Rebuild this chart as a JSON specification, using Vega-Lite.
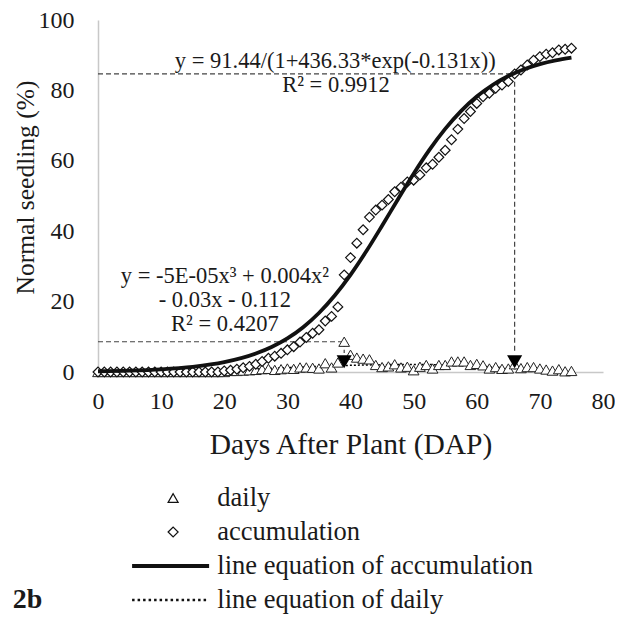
{
  "$schema": "https://vega.github.io/schema/vega-lite/v6.json",
  "background": "white",
  "padding": {"left": 12, "top": 8, "right": 0, "bottom": 0},
  "spacing": 22,
  "config": {"view": {"stroke": null}, "font": "'Liberation Serif', 'Times New Roman', 'DejaVu Serif', serif"},
  "datasets": {
    "obs": [
      {"day":0,"daily":0,"accum":0},{"day":1,"daily":0,"accum":0},{"day":2,"daily":0,"accum":0},{"day":3,"daily":0,"accum":0},
      {"day":4,"daily":0,"accum":0},{"day":5,"daily":0,"accum":0},{"day":6,"daily":0,"accum":0},{"day":7,"daily":0,"accum":0},
      {"day":8,"daily":0,"accum":0},{"day":9,"daily":0,"accum":0},{"day":10,"daily":0,"accum":0},{"day":11,"daily":0,"accum":0},
      {"day":12,"daily":0,"accum":0},{"day":13,"daily":0,"accum":0},{"day":14,"daily":0,"accum":0},{"day":15,"daily":0,"accum":0},
      {"day":16,"daily":0,"accum":0},{"day":17,"daily":0,"accum":0},{"day":18,"daily":0,"accum":0},{"day":19,"daily":0,"accum":0},
      {"day":20,"daily":0,"accum":0.3},{"day":21,"daily":0.3,"accum":0.5},{"day":22,"daily":0.3,"accum":0.8},{"day":23,"daily":0.4,"accum":1.2},
      {"day":24,"daily":0.5,"accum":1.6},{"day":25,"daily":0.6,"accum":2.2},{"day":26,"daily":0.8,"accum":3.0},{"day":27,"daily":0.9,"accum":3.9},
      {"day":28,"daily":0.6,"accum":4.5},{"day":29,"daily":0.8,"accum":5.3},{"day":30,"daily":1.0,"accum":6.3},{"day":31,"daily":0.9,"accum":7.2},
      {"day":32,"daily":1.3,"accum":8.5},{"day":33,"daily":1.3,"accum":9.8},{"day":34,"daily":1.2,"accum":11.0},{"day":35,"daily":1.0,"accum":12.0},
      {"day":36,"daily":2.5,"accum":14.5},{"day":37,"daily":1.3,"accum":15.8},{"day":38,"daily":2.7,"accum":18.5},{"day":39,"daily":8.6,"accum":27.6},
      {"day":40,"daily":4.9,"accum":32.5},{"day":41,"daily":4.1,"accum":36.6},{"day":42,"daily":3.8,"accum":40.4},{"day":43,"daily":3.6,"accum":44.0},
      {"day":44,"daily":2.0,"accum":46.0},{"day":45,"daily":1.4,"accum":47.4},{"day":46,"daily":1.6,"accum":49.0},{"day":47,"daily":2.2,"accum":51.2},
      {"day":48,"daily":1.3,"accum":52.5},{"day":49,"daily":1.5,"accum":54.0},{"day":50,"daily":0.5,"accum":54.5},{"day":51,"daily":1.5,"accum":56.0},
      {"day":52,"daily":2.0,"accum":58.0},{"day":53,"daily":1.0,"accum":59.0},{"day":54,"daily":2.0,"accum":61.0},{"day":55,"daily":2.0,"accum":63.0},
      {"day":56,"daily":3.0,"accum":66.0},{"day":57,"daily":3.0,"accum":69.0},{"day":58,"daily":3.0,"accum":72.0},{"day":59,"daily":2.0,"accum":74.0},
      {"day":60,"daily":2.3,"accum":76.3},{"day":61,"daily":1.9,"accum":78.2},{"day":62,"daily":1.0,"accum":79.2},{"day":63,"daily":1.4,"accum":80.6},
      {"day":64,"daily":0.9,"accum":81.5},{"day":65,"daily":1.0,"accum":82.5},{"day":66,"daily":2.2,"accum":84.7},{"day":67,"daily":1.1,"accum":85.8},
      {"day":68,"daily":1.4,"accum":87.2},{"day":69,"daily":1.4,"accum":88.6},{"day":70,"daily":1.0,"accum":89.6},{"day":71,"daily":0.7,"accum":90.3},
      {"day":72,"daily":0.4,"accum":90.7},{"day":73,"daily":0.8,"accum":91.5},{"day":74,"daily":0.2,"accum":91.7},{"day":75,"daily":0.3,"accum":92.0}
    ],
    "fit": [
      {"x":0,"logistic":0.21,"poly":-0.112},{"x":5,"logistic":0.40,"poly":-0.168},{"x":10,"logistic":0.77,"poly":-0.062},
      {"x":15,"logistic":1.47,"poly":0.169},{"x":20,"logistic":2.79,"poly":0.488},{"x":25,"logistic":5.23,"poly":0.857},
      {"x":27.5,"logistic":7.09},{"x":30,"logistic":9.55,"poly":1.238},{"x":32.5,"logistic":12.74},{"x":35,"logistic":16.77,"poly":1.594},
      {"x":37.5,"logistic":21.73},{"x":40,"logistic":27.61,"poly":1.888},{"x":42.5,"logistic":34.29},{"x":45,"logistic":41.55,"poly":2.082},
      {"x":47.5,"logistic":49.01},{"x":50,"logistic":56.31,"poly":2.138},{"x":52.5,"logistic":63.08},{"x":55,"logistic":69.06,"poly":2.019},
      {"x":57.5,"logistic":74.12},{"x":60,"logistic":78.27,"poly":1.688},{"x":62.5,"logistic":81.54},{"x":65,"logistic":84.09,"poly":1.107},
      {"x":67.5,"logistic":86.02},{"x":70,"logistic":87.47,"poly":0.238},{"x":72.5,"logistic":88.54},{"x":75,"logistic":89.33,"poly":-0.962}
    ],
    "refs": [
      {"x1":0,"x2":66,"y1":84.7,"y2":84.7},
      {"x1":66,"x2":66,"y1":84.7,"y2":5.4},
      {"x1":0,"x2":39,"y1":8.6,"y2":8.6},
      {"x1":39,"x2":39,"y1":8.6,"y2":5.4}
    ],
    "arrows": [{"x":66,"y":2.9},{"x":39,"y":2.9}],
    "notes": [
      {"x":37.6,"y":88.4,"label":"y = 91.44/(1+436.33*exp(-0.131x))"},
      {"x":37.7,"y":81.4,"label":"R² = 0.9912"},
      {"x":20.1,"y":27.4,"label":"y = -5E-05x³ + 0.004x²"},
      {"x":20.1,"y":20.5,"label":"- 0.03x - 0.112"},
      {"x":20.1,"y":13.6,"label":"R² = 0.4207"}
    ],
    "legend": [
      {"item":"daily"},{"item":"accumulation"},{"item":"line equation of accumulation"},{"item":"line equation of daily"}
    ]
  },
  "vconcat": [
    {
      "width": 505,
      "height": 352,
      "layer": [
        {
          "data": {"name": "refs"},
          "mark": {"type": "rule", "color": "#444", "strokeWidth": 1.2, "strokeDash": [5, 3]},
          "encoding": {
            "x": {"field": "x1", "type": "quantitative", "scale": {"domain": [0, 80], "nice": false},
              "axis": {"values": [0,10,20,30,40,50,60,70,80], "title": "Days After Plant (DAP)", "grid": false, "ticks": false,
                "domainColor": "#c8c8c8", "domainWidth": 1.5, "labelFontSize": 24, "labelColor": "#1a1a1a",
                "labelPadding": 17, "labelFlush": false, "labelOverlap": false,
                "titleFontSize": 29.5, "titleFontWeight": "normal", "titleColor": "#1a1a1a", "titlePadding": 17}},
            "x2": {"field": "x2"},
            "y": {"field": "y1", "type": "quantitative", "scale": {"domain": [0, 100], "nice": false},
              "axis": {"values": [0,20,40,60,80,100], "title": "Normal seedling (%)", "grid": false, "ticks": false,
                "domainColor": "#c8c8c8", "domainWidth": 1.5, "labelFontSize": 24, "labelColor": "#1a1a1a",
                "labelPadding": 24, "labelFlush": false, "labelOverlap": false,
                "titleFontSize": 25.5, "titleFontWeight": "normal", "titleColor": "#1a1a1a", "titlePadding": 0, "titleY": 167}},
            "y2": {"field": "y2"}
          }
        },
        {
          "data": {"name": "fit"},
          "transform": [{"filter": "isValid(datum.poly)"}],
          "mark": {"type": "line", "color": "black", "strokeWidth": 1.5, "strokeDash": [2, 2], "interpolate": "monotone", "clip": true},
          "encoding": {
            "x": {"field": "x", "type": "quantitative"},
            "y": {"field": "poly", "type": "quantitative"}
          }
        },
        {
          "data": {"name": "obs"},
          "mark": {"type": "point", "shape": "triangle-up", "filled": true, "fill": "white", "stroke": "#222", "strokeWidth": 1, "size": 115, "opacity": 1},
          "encoding": {
            "x": {"field": "day", "type": "quantitative"},
            "y": {"field": "daily", "type": "quantitative"}
          }
        },
        {
          "data": {"name": "arrows"},
          "mark": {"type": "point", "shape": "triangle-down", "filled": true, "color": "black", "size": 230, "opacity": 1},
          "encoding": {
            "x": {"field": "x", "type": "quantitative"},
            "y": {"field": "y", "type": "quantitative"}
          }
        },
        {
          "data": {"name": "obs"},
          "mark": {"type": "point", "shape": "diamond", "filled": true, "fill": "white", "stroke": "#111", "strokeWidth": 1.2, "size": 95, "opacity": 1},
          "encoding": {
            "x": {"field": "day", "type": "quantitative"},
            "y": {"field": "accum", "type": "quantitative"}
          }
        },
        {
          "data": {"name": "fit"},
          "mark": {"type": "line", "color": "#111", "strokeWidth": 3.8, "interpolate": "monotone"},
          "encoding": {
            "x": {"field": "x", "type": "quantitative"},
            "y": {"field": "logistic", "type": "quantitative"}
          }
        },
        {
          "data": {"name": "notes"},
          "mark": {"type": "text", "fontSize": 22.5, "color": "#1a1a1a", "align": "center", "baseline": "middle"},
          "encoding": {
            "x": {"field": "x", "type": "quantitative"},
            "y": {"field": "y", "type": "quantitative"},
            "text": {"field": "label"}
          }
        }
      ]
    },
    {
      "width": 505,
      "height": 136,
      "data": {"name": "legend"},
      "encoding": {
        "y": {"field": "item", "type": "nominal", "axis": null,
          "scale": {"domain": ["daily", "accumulation", "line equation of accumulation", "line equation of daily"]}}
      },
      "layer": [
        {
          "mark": {"type": "text", "align": "left", "baseline": "middle", "fontSize": 26.5, "color": "#1a1a1a"},
          "encoding": {
            "x": {"datum": 18.9, "type": "quantitative", "scale": {"domain": [0, 80], "nice": false}, "axis": null},
            "text": {"field": "item"}
          }
        },
        {
          "transform": [{"filter": {"field": "item", "oneOf": ["daily", "accumulation"]}}],
          "mark": {"type": "point", "filled": true, "fill": "white", "stroke": "#111", "strokeWidth": 1.2, "size": 100, "opacity": 1},
          "encoding": {
            "x": {"datum": 11.9, "type": "quantitative"},
            "shape": {"field": "item", "type": "nominal", "legend": null,
              "scale": {"domain": ["daily", "accumulation"], "range": ["triangle-up", "diamond"]}}
          }
        },
        {
          "transform": [{"filter": {"field": "item", "equal": "line equation of accumulation"}}],
          "mark": {"type": "rule", "color": "#111", "strokeWidth": 4},
          "encoding": {
            "x": {"datum": 5.4, "type": "quantitative"},
            "x2": {"datum": 17.6}
          }
        },
        {
          "transform": [{"filter": {"field": "item", "equal": "line equation of daily"}}],
          "mark": {"type": "rule", "color": "#111", "strokeWidth": 2.5, "strokeDash": [2.5, 3]},
          "encoding": {
            "x": {"datum": 5.4, "type": "quantitative"},
            "x2": {"datum": 17.6}
          }
        },
        {
          "transform": [{"filter": {"field": "item", "equal": "line equation of daily"}}],
          "mark": {"type": "text", "text": "2b", "align": "left", "baseline": "middle", "fontSize": 28, "fontWeight": "bold", "color": "#1a1a1a"},
          "encoding": {
            "x": {"datum": -13.5, "type": "quantitative"}
          }
        }
      ]
    }
  ]
}
